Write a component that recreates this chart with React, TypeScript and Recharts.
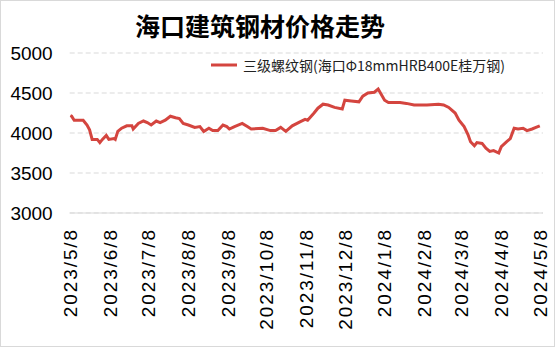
import React from 'react';
import { LineChart, Line, XAxis, YAxis, CartesianGrid } from 'recharts';

const title = '海口建筑钢材价格走势';
const seriesName = '三级螺纹钢(海口Φ18mmHRB400E桂万钢)';

const dates = [
  '2023/5/8', '2023/5/9', '2023/5/11', '2023/5/14', '2023/5/18', '2023/5/21', '2023/5/23', '2023/5/25', '2023/5/29', '2023/5/31',
  '2023/6/2', '2023/6/5', '2023/6/7', '2023/6/11', '2023/6/12', '2023/6/14', '2023/6/17', '2023/6/21', '2023/6/25', '2023/6/26', '2023/6/30',
  '2023/7/4', '2023/7/7', '2023/7/10', '2023/7/14', '2023/7/17', '2023/7/21', '2023/7/25', '2023/7/29',
  '2023/8/1', '2023/8/4', '2023/8/8', '2023/8/13', '2023/8/17', '2023/8/20', '2023/8/24', '2023/8/27', '2023/8/31',
  '2023/9/4', '2023/9/7', '2023/9/9', '2023/9/13', '2023/9/19', '2023/9/23', '2023/9/26',
  '2023/10/5', '2023/10/11', '2023/10/15', '2023/10/19', '2023/10/23', '2023/10/28',
  '2023/11/3', '2023/11/7', '2023/11/9', '2023/11/14', '2023/11/17', '2023/11/21', '2023/11/25', '2023/11/30',
  '2023/12/6', '2023/12/8', '2023/12/13', '2023/12/19', '2023/12/22', '2023/12/26', '2023/12/31',
  '2024/1/3', '2024/1/8', '2024/1/11', '2024/1/20', '2024/1/25', '2024/1/31',
  '2024/2/10', '2024/2/19', '2024/2/23', '2024/2/27',
  '2024/3/3', '2024/3/6', '2024/3/10', '2024/3/13', '2024/3/15', '2024/3/18', '2024/3/20', '2024/3/24', '2024/3/27', '2024/3/30',
  '2024/4/2', '2024/4/6', '2024/4/8', '2024/4/12', '2024/4/15', '2024/4/18', '2024/4/21', '2024/4/25', '2024/4/28',
  '2024/5/2', '2024/5/5', '2024/5/8',
];

const prices = [
  4220, 4210, 4160, 4160, 4160, 4100, 4040, 3920, 3920, 3880,
  3920, 3970, 3920, 3930, 3920, 4020, 4060, 4090, 4090, 4050, 4120,
  4150, 4130, 4100, 4150, 4130, 4160, 4210, 4190,
  4180, 4120, 4100, 4070, 4080, 4020, 4060, 4030, 4030,
  4100, 4080, 4050, 4080, 4120, 4080, 4050,
  4060, 4030, 4030, 4070, 4020, 4090,
  4140, 4170, 4160, 4250, 4310, 4360, 4350, 4320,
  4300, 4410, 4400, 4390, 4460, 4500, 4510,
  4550, 4410, 4380, 4380, 4370, 4350,
  4350, 4360, 4350, 4320,
  4250, 4160, 4080, 3980, 3890, 3840, 3880, 3870, 3810, 3770,
  3780, 3750, 3830, 3890, 3930, 4060, 4050, 4060, 4030,
  4050, 4070, 4090,
];

const tickDates = [
  '2023/5/8', '2023/6/8', '2023/7/8', '2023/8/8', '2023/9/8', '2023/10/8', '2023/11/8',
  '2023/12/8', '2024/1/8', '2024/2/8', '2024/3/8', '2024/4/8', '2024/5/8',
];

const yTicks = [3000, 3500, 4000, 4500, 5000];

const BASE = Date.UTC(2023, 4, 8);
const dayOf = (s: string) => {
  const [y, m, d] = s.split('/').map(Number);
  return Math.round((Date.UTC(y, m - 1, d) - BASE) / 86400000);
};

const data = dates.map((s, i) => ({ d: dayOf(s), v: prices[i] }));
const xTicks = tickDates.map(dayOf);

const RED = '#d4453f';

const XTick = (props: any) => {
  const { x, y, payload } = props;
  const idx = xTicks.indexOf(payload.value);
  const label = idx >= 0 ? tickDates[idx] : '';
  return (
    <text
      x={x}
      y={y}
      transform={`rotate(-90, ${x}, ${y})`}
      textAnchor="end"
      dy="0.358em"
      fontSize={19}
      fontFamily="'Liberation Sans', Arial, sans-serif"
      letterSpacing={1.9}
      fill="#000"
    >
      {label}
    </text>
  );
};

export default function App() {
  return (
    <div style={{ position: 'absolute', left: 0, top: 0, width: 555, height: 356, background: '#fff' }}>
      <div
        style={{
          position: 'absolute', left: 0, top: 0, width: 555, height: 347,
          border: '1px solid #d9d9d9', boxSizing: 'border-box',
        }}
      />
      <div style={{ position: 'absolute', left: 0, top: 0 }}>
        <LineChart width={555} height={356} data={data} margin={{ top: 53, right: 12, bottom: 23, left: 0 }}>
          <CartesianGrid vertical={false} stroke="#d9d9d9" strokeDasharray="5 3" />
          <XAxis
            type="number"
            dataKey="d"
            domain={[-0.5, 368.5]}
            ticks={xTicks}
            interval={0}
            height={120}
            tickLine={false}
            tickMargin={9}
            axisLine={{ stroke: '#d9d9d9' }}
            tick={<XTick />}
            allowDataOverflow
          />
          <YAxis
            domain={[3000, 5000]}
            ticks={yTicks}
            width={69.7}
            axisLine={false}
            tickLine={false}
            tickMargin={11}
            tick={{ fill: '#000', fontSize: 19, fontFamily: "'Liberation Sans', Arial, sans-serif" }}
          />
          <Line
            type="linear"
            dataKey="v"
            stroke={RED}
            strokeWidth={3}
            dot={false}
            isAnimationActive={false}
          />
        </LineChart>
      </div>
      <svg width={555} height={356} style={{ position: 'absolute', left: 0, top: 0, pointerEvents: 'none' }}>
        <text
          x={260}
          y={25}
          textAnchor="middle"
          dominantBaseline="central"
          fontSize={25}
          fontWeight={700}
          fontFamily="'Noto Sans CJK SC', sans-serif"
          fill="#000"
        >
          {title}
        </text>
        <line x1={211} x2={237} y1={65} y2={65} stroke={RED} strokeWidth={3} />
        <text
          x={243}
          y={65}
          dominantBaseline="central"
          fontSize={14}
          fontFamily="'Noto Sans CJK SC', sans-serif"
          fill="#222"
        >
          {seriesName}
        </text>
      </svg>
    </div>
  );
}
